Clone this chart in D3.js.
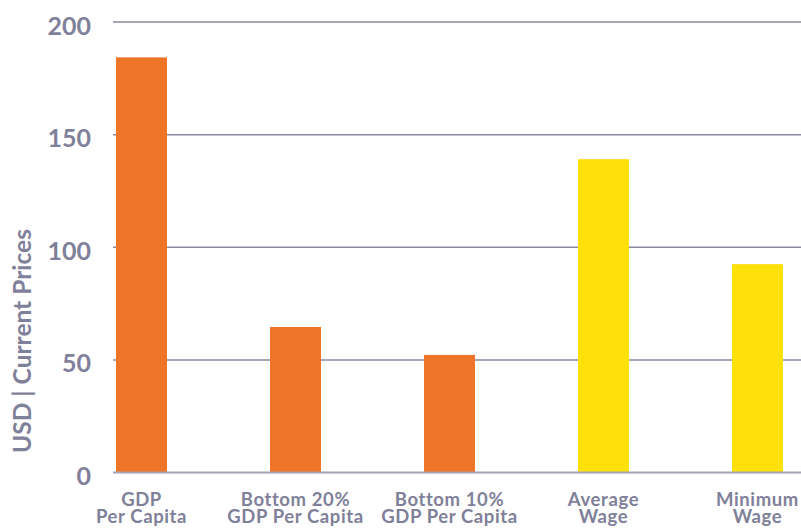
<!DOCTYPE html>
<html>
<head>
<meta charset="utf-8">
<script src="https://cdn.jsdelivr.net/npm/d3@7"></script>
<style>
  html, body { margin: 0; padding: 0; background: #fff; }
  svg { display: block; font-family: Lato, "Open Sans", sans-serif; }
</style>
</head>
<body>
<svg id="chart" width="801" height="529"></svg>
<script>
// Daily income comparison, USD at current prices
const categories = [
  ["GDP", "Per Capita"],
  ["Bottom 20%", "GDP Per Capita"],
  ["Bottom 10%", "GDP Per Capita"],
  ["Average", "Wage"],
  ["Minimum", "Wage"]
];
const values = [184.3, 64.6, 52.2, 139.1, 92.5];
const barColors = ["#EE7428", "#EE7428", "#EE7428", "#FEE00B", "#FEE00B"];
const yTicks = [0, 50, 100, 150, 200];
const yTitle = "USD | Current Prices";

const textColor = "#7F8099";
const svg = d3.select("#chart");

const x = d3.scaleBand()
  .domain(d3.range(categories.length))
  .range([113, 786])
  .paddingInner(0.6688)
  .paddingOuter(0.0195);

const y = d3.scaleLinear().domain([0, 200]).range([472.5, 22]);

// Horizontal gridlines (baseline drawn later, over the bars)
svg.append("g")
  .selectAll("line")
  .data(yTicks.filter(d => d !== 0))
  .join("line")
  .attr("x1", 113).attr("x2", 801)
  .attr("y1", d => y(d)).attr("y2", d => y(d))
  .attr("stroke", "#878AA1")
  .attr("stroke-width", 1.5);

// Bars
svg.append("g")
  .selectAll("rect")
  .data(values)
  .join("rect")
  .attr("x", (d, i) => x(i))
  .attr("width", x.bandwidth())
  .attr("y", d => y(d))
  .attr("height", d => y(0) - y(d))
  .attr("fill", (d, i) => barColors[i]);

// Zero baseline
svg.append("line")
  .attr("x1", 113).attr("x2", 801)
  .attr("y1", y(0)).attr("y2", y(0))
  .attr("stroke", "#A2A3B5")
  .attr("stroke-width", 2);

// Y tick labels
const yAxis = d3.axisLeft(y).tickValues(yTicks).tickSize(0).tickPadding(0);
const gy = svg.append("g").attr("transform", "translate(91,4)").call(yAxis);
gy.select(".domain").remove();
gy.selectAll("text")
  .attr("fill", textColor)
  .attr("font-size", 25)
  .attr("font-weight", 700)
  .attr("font-family", "Lato, 'Open Sans', sans-serif");

// Category labels, two lines each
const labels = svg.append("g")
  .selectAll("text")
  .data(categories)
  .join("text")
  .attr("text-anchor", "middle")
  .attr("fill", textColor)
  .attr("font-size", 18.5)
  .attr("font-weight", 700)
  .attr("letter-spacing", 0.6)
  .attr("transform", (d, i) => `translate(${x(i) + x.bandwidth() / 2},506)`);
labels.selectAll("tspan")
  .data(d => d)
  .join("tspan")
  .attr("x", 0)
  .attr("y", (d, j) => j * 17)
  .text(d => d);

// Y axis title
svg.append("text")
  .attr("transform", "translate(31,341) rotate(-90)")
  .attr("text-anchor", "middle")
  .attr("fill", textColor)
  .attr("font-size", 24.5)
  .attr("font-weight", 700)
  .text(yTitle);
</script>
</body>
</html>
